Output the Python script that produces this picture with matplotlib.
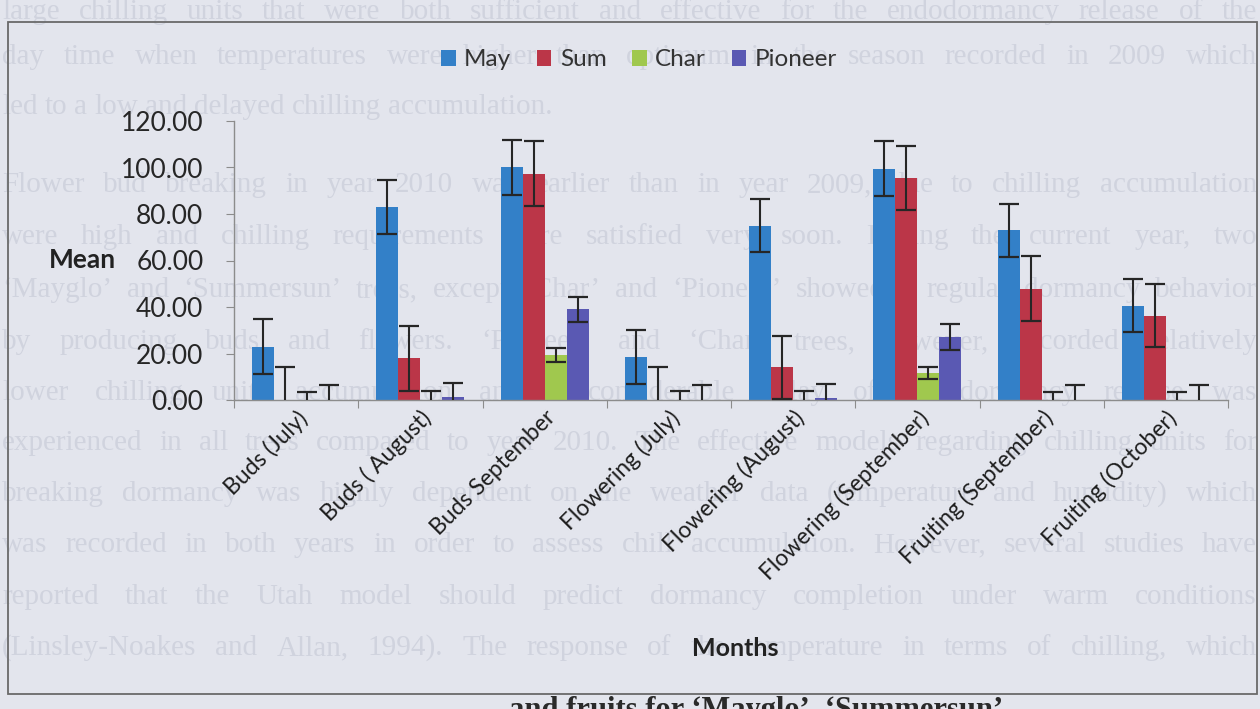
import matplotlib

matplotlib.use("Agg")
import matplotlib.pyplot as plt
import numpy as np
from matplotlib.patches import Rectangle

# mean chilling response per stage, with error bars
categories = [
    "Buds (July)", "Buds ( August)", "Buds September", "Flowering (July)",
    "Flowering (August)", "Flowering (September)", "Fruiting (September)",
    "Fruiting (October)",
]
series = ["May", "Sum", "Char", "Pioneer"]
may = [23.0, 83.0, 100.0, 18.5, 75.0, 99.5, 73.0, 40.5]
may_err = [11.7, 11.6, 11.7, 11.5, 11.5, 11.7, 11.5, 11.4]
summ = [0.0, 18.0, 97.3, 0.0, 14.0, 95.5, 47.8, 36.3]
summ_err = [14.0, 14.0, 14.0, 14.3, 13.5, 13.7, 14.0, 13.7]
char = [0.0, 0.0, 19.5, 0.0, 0.0, 11.6, 0.0, 0.0]
char_err = [3.3, 4.0, 3.0, 3.7, 3.9, 2.7, 3.4, 3.4]
pioneer = [0.0, 1.1, 39.0, 0.0, 1.0, 27.0, 0.0, 0.0]
pioneer_err = [6.4, 6.3, 5.4, 6.4, 6.0, 5.5, 6.3, 6.3]
yticks = [0, 20, 40, 60, 80, 100, 120]

# page text behind the chart (printed on the other side of the sheet)
page_lines = [
    "large chilling units that were both sufficient and effective for the endodormancy release of the",
    "day time when temperatures were higher than optimum in the season recorded in 2009  which",
    "led to a low and delayed chilling accumulation.",
    "Flower bud breaking in year 2010 was earlier than in year 2009, due to chilling accumulation",
    "were high and chilling requirements were satisfied very soon. During the current year, two",
    "‘Mayglo’ and ‘Summersun’ trees, except ‘Char’ and ‘Pioneer’ showed a regular dormancy behavior",
    "by producing buds and flowers. ‘Pioneer’ and ‘Char’ trees, however, recorded relatively",
    "lower chilling units accumulation and a considerable delay of endodormancy release was",
    "experienced in all trees compared to year 2010. The effective models regarding chilling units for",
    "breaking dormancy was highly dependent on the weather data (temperature and humidity) which",
    "was recorded in both years in order to assess chill accumulation. However, several studies have",
    "reported that the Utah model should predict dormancy completion under warm conditions",
    "(Linsley-Noakes and Allan, 1994). The response of the temperature in terms of chilling, which",
]
page_y = [12, 57, 107, 185, 237, 290, 342, 393, 443, 494, 545, 597, 648]
page_short = {2}

W, H = 1260, 709
BG = "#e3e5ed"
colors = ["#3380c8", "#bb3648", "#a0c84e", "#5a59b3"]
font = ["Lato", "DejaVu Sans"]

fig = plt.figure(figsize=(W / 100, H / 100), dpi=100, facecolor=BG)
renderer = fig.canvas.get_renderer()

# faint justified page text
for i, (line, y) in enumerate(zip(page_lines, page_y)):
    words = line.split()
    kw = dict(family="Liberation Serif", fontsize=21, color="#d0d3de",
              va="center", ha="left", zorder=-2)
    texts = [fig.text(0, 1 - y / H, w, **kw) for w in words]
    widths = [t.get_window_extent(renderer).width for t in texts]
    x0, x1 = 2, 1257
    if i in page_short:
        gap = 7
    else:
        gap = (x1 - x0 - sum(widths)) / (len(words) - 1)
    x = x0
    for t, w in zip(texts, widths):
        t.set_x(x / W)
        x += w + gap

fig.text(1003 / W, 1 - 718 / H, "and fruits for ‘Mayglo’, ‘Summersun’",
         family="Liberation Serif", fontsize=22, weight="bold", color="#2a2a2a",
         ha="right", va="baseline", zorder=-1)

# chart frame
fig.add_artist(Rectangle((8 / W, 1 - 694 / H), 1249 / W, 672 / H,
                         transform=fig.transFigure, fill=False,
                         edgecolor="#6a6a6a", linewidth=1.3, zorder=-1))

ax = fig.add_axes([234 / W, 1 - 400 / H, 994 / W, 279 / H])
ax.set_facecolor("none")

x = np.arange(len(categories))
bw = 0.177
values = [may, summ, char, pioneer]
errors = [may_err, summ_err, char_err, pioneer_err]
for k, (name, vals, errs, c) in enumerate(zip(series, values, errors, colors)):
    pos = x + (k - 1.5) * bw
    ax.bar(pos, vals, width=bw, color=c, label=name, zorder=2)
    ax.errorbar(pos, vals, yerr=errs, fmt="none", ecolor="#262626",
                elinewidth=1.5, capsize=7, capthick=1.6, zorder=3)

ax.set_xlim(-0.5, len(categories) - 0.5)
ax.set_ylim(0, 120)
ax.set_yticks(yticks)
ax.set_yticklabels([f"{v:.2f}" for v in yticks], family=font, fontsize=19,
                   color="#262626")
ax.set_xticks(np.arange(len(categories) + 1) - 0.5, minor=False)
ax.set_xticks(x, minor=True)
ax.set_xticklabels([])
ax.set_xticklabels(categories, minor=True, rotation=45, ha="right",
                   rotation_mode="anchor", family=font, fontsize=16.5,
                   color="#1e1e1e")
ax.tick_params(axis="x", which="minor", length=0, pad=5)
ax.tick_params(axis="x", which="major", length=6, color="#8c8c8c", direction="out")
ax.tick_params(axis="y", length=6, color="#8c8c8c", direction="out", pad=16)
for side in ("top", "right"):
    ax.spines[side].set_visible(False)
for side in ("left", "bottom"):
    ax.spines[side].set_color("#8c8c8c")
    ax.spines[side].set_linewidth(1.0)

ax.set_ylabel("Mean", rotation=0, family=font, fontsize=19, weight="bold",
              color="#222222", va="center", ha="center")
ax.yaxis.set_label_coords((82 - 234) / 994, 0.5)
ax.set_xlabel("Months", family=font, fontsize=18, weight="bold",
              color="#222222", va="center", ha="center")
ax.xaxis.set_label_coords((735 - 234) / 994, (400 - 648) / 279)

handles, labels = ax.get_legend_handles_labels()
fig.legend(handles, labels, loc="center", bbox_to_anchor=(639 / W, 1 - 60 / H),
           ncol=4, frameon=False, handlelength=0.6, handleheight=0.6,
           handletextpad=0.35, columnspacing=1.05,
           prop={"family": font, "size": 17.5}, labelcolor="#333333")

fig.savefig("out.png", dpi=100, facecolor=BG)
